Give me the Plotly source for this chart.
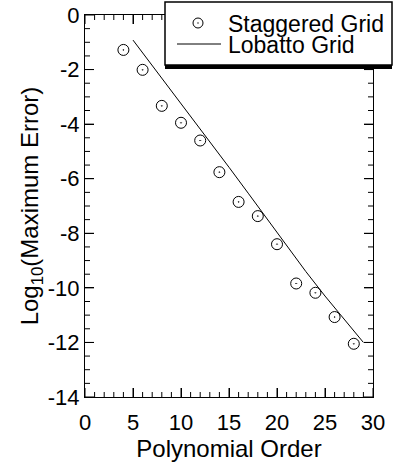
import plotly.graph_objects as go

# Data
staggered_order = [4, 6, 8, 10, 12, 14, 16, 18, 20, 22, 24, 26, 28]
staggered_err = [-1.28, -2.01, -3.33, -3.95, -4.60, -5.76, -6.85, -7.37, -8.40, -9.84, -10.18, -11.07, -12.05]
lobatto_order = [5, 7, 9, 11, 13, 15, 17, 19, 21, 23, 25, 27, 29]
lobatto_err = [-0.92, -1.85, -2.75, -3.68, -4.62, -5.58, -6.53, -7.50, -8.45, -9.40, -10.30, -11.15, -12.00]
x_tickvals = [0, 5, 10, 15, 20, 25, 30]
x_ticktext = ["0", "5", "10", "15", "20", "25", "30"]
y_tickvals = [0, -2, -4, -6, -8, -10, -12, -14]
y_ticktext = ["0", "-2", "-4", "-6", "-8", "-10", "-12", "-14"]
x_minor = [v for v in range(0, 31) if v not in x_tickvals]
y_minor = [-v / 2 for v in range(0, 29) if -v / 2 not in y_tickvals]
x_range = [0, 30]
y_range = [-14, 0]
series_names = ["Staggered Grid", "Lobatto Grid"]

FONT = "Liberation Sans, Arial, Helvetica, sans-serif"

# plot-area geometry (pixels) used to convert legend placement into paper coords
L, R, T, B = 85, 373, 15, 397
def px(x):
    return (x - L) / (R - L)
def py(y):
    return (B - y) / (B - T)

fig = go.Figure()
fig.add_trace(go.Scatter(
    x=staggered_order, y=staggered_err, mode="markers", name=series_names[0],
    marker=dict(symbol="circle-open-dot", size=11, color="black", line=dict(width=1, color="black")),
    showlegend=False,
))
fig.add_trace(go.Scatter(
    x=lobatto_order, y=lobatto_err, mode="lines", name=series_names[1],
    line=dict(color="black", width=1),
    showlegend=False,
))

axis_common = dict(
    showline=True, linecolor="black", linewidth=1, mirror="ticks",
    ticks="inside", ticklen=9, tickwidth=1, tickcolor="black",
    showgrid=False, zeroline=False, automargin=False,
    tickfont=dict(family=FONT, size=22, color="black"),
)

fig.update_layout(
    xaxis=dict(
        range=x_range, tickmode="array", tickvals=x_tickvals, ticktext=x_ticktext,
        ticklabelstandoff=6,
        title=dict(text="Polynomial Order", font=dict(family=FONT, size=24, color="black"), standoff=4),
        **axis_common,
    ),
    yaxis=dict(
        range=y_range, tickmode="array", tickvals=y_tickvals, ticktext=y_ticktext,
        title=dict(text="Log<sub>10</sub>(Maximum Error)", font=dict(family=FONT, size=24, color="black"), standoff=2),
        **axis_common,
    ),
)

shapes = []
tick_line = dict(color="black", width=1)
# x-axis tick marks (bottom and mirrored top), placed via the x data scale
for vals, ln in ((x_tickvals, 9), (x_minor, 5)):
    for v in vals:
        shapes.append(dict(type="line", xref="x", yref="paper", ysizemode="pixel", yanchor=0,
                           x0=v, x1=v, y0=0, y1=ln, line=tick_line, layer="above"))
        shapes.append(dict(type="line", xref="x", yref="paper", ysizemode="pixel", yanchor=1,
                           x0=v, x1=v, y0=0, y1=-ln, line=tick_line, layer="above"))
# y-axis tick marks (left and mirrored right), placed via the y data scale
for vals, ln in ((y_tickvals, 9), (y_minor, 5)):
    for v in vals:
        shapes.append(dict(type="line", yref="y", xref="paper", xsizemode="pixel", xanchor=0,
                           y0=v, y1=v, x0=0, x1=ln, line=tick_line, layer="above"))
        shapes.append(dict(type="line", yref="y", xref="paper", xsizemode="pixel", xanchor=1,
                           y0=v, y1=v, x0=0, x1=-ln, line=tick_line, layer="above"))

# legend box with shadow, symbols and labels
shapes += [
    dict(type="rect", xref="paper", yref="paper", x0=px(165), x1=px(392), y0=py(69), y1=py(62),
         fillcolor="black", line=dict(width=0), layer="above"),
    dict(type="rect", xref="paper", yref="paper", x0=px(165), x1=px(392), y0=py(65), y1=py(2),
         fillcolor="white", line=dict(width=1.5, color="black"), layer="above"),
    dict(type="circle", xref="paper", yref="paper", x0=px(193), x1=px(203), y0=py(28), y1=py(18),
         fillcolor="white", line=dict(width=1, color="black"), layer="above"),
    dict(type="circle", xref="paper", yref="paper", x0=px(197.3), x1=px(198.7), y0=py(23.7), y1=py(22.3),
         fillcolor="black", line=dict(width=0), layer="above"),
    dict(type="line", xref="paper", yref="paper", x0=px(177), x1=px(221), y0=py(44), y1=py(44),
         line=dict(width=1, color="black"), layer="above"),
]
annotations = [
    dict(text=series_names[0], xref="paper", yref="paper", x=px(226), y=py(24),
         xanchor="left", yanchor="middle", showarrow=False,
         font=dict(family=FONT, size=23, color="black")),
    dict(text=series_names[1], xref="paper", yref="paper", x=px(226), y=py(45),
         xanchor="left", yanchor="middle", showarrow=False,
         font=dict(family=FONT, size=23, color="black")),
]

fig.update_layout(
    width=396, height=469,
    margin=dict(l=L, r=396 - R, t=T, b=469 - B, autoexpand=False),
    paper_bgcolor="white", plot_bgcolor="white",
    font=dict(family=FONT, color="black"),
    showlegend=False,
    shapes=shapes, annotations=annotations,
)

fig.write_html("out.html")
